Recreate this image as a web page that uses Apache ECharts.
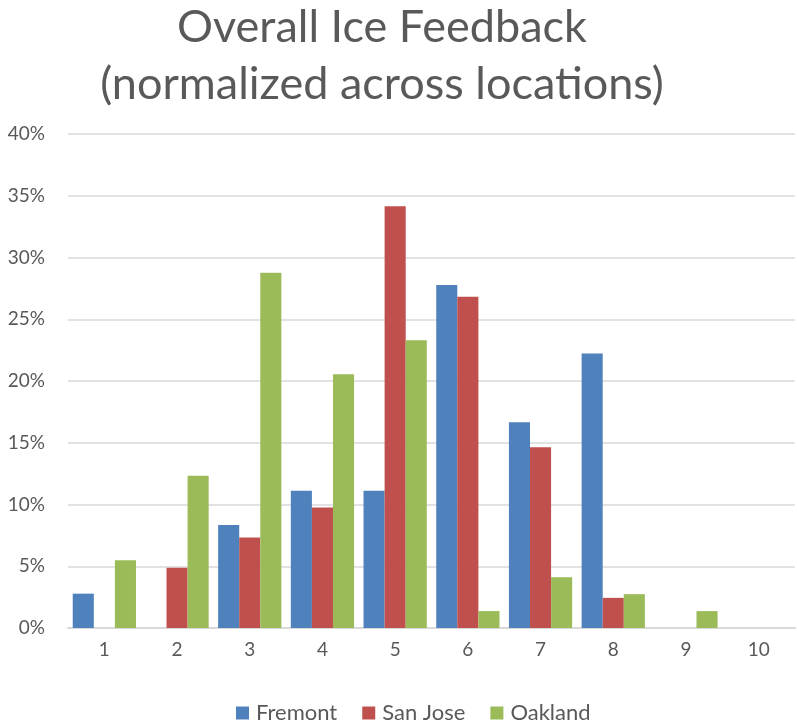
<!DOCTYPE html>
<html>
<head>
<meta charset="utf-8">
<script src="https://cdn.jsdelivr.net/npm/echarts@6/dist/echarts.min.js"></script>
<style>
    html, body { margin: 0; padding: 0; background: #fff; }
    #chart { width: 797px; height: 728px; }
</style>
</head>
<body>
<div id="chart"></div>
<script>
// ratings 1-10, share of answers per location (%)
const categories = ['1', '2', '3', '4', '5', '6', '7', '8', '9', '10']
const fremont = [2.78, 0, 8.33, 11.11, 11.11, 27.78, 16.67, 22.22, 0, 0]
const sanJose = [0, 4.88, 7.32, 9.76, 34.15, 26.83, 14.63, 2.44, 0, 0]
const oakland = [5.48, 12.33, 28.77, 20.55, 23.29, 1.37, 4.11, 2.74, 1.37, 0]

const textColor = '#595959'
const font = 'Lato'

const makeSeries = function(name, data, color) {
    return {
        name: name,
        type: 'bar',
        data: data,
        barGap: 0,
        barCategoryGap: '13%',
        itemStyle: { color: color },
    }
}

const chart = echarts.init(document.getElementById('chart'))

const option = {
    animation: false,
    title: {
        text: 'Overall Ice Feedback\n(normalized across locations)',
        left: 382,
        textAlign: 'center',
        top: -1,
        padding: 0,
        textStyle: {
            fontFamily: font,
            fontSize: 45,
            fontWeight: 'normal',
            lineHeight: 57,
            color: textColor,
        },
    },
    legend: {
        top: 697,
        left: 231,
        icon: 'rect',
        itemWidth: 13,
        itemHeight: 13,
        itemGap: 25,
        textStyle: { fontFamily: font, fontSize: 22, color: textColor, padding: [0, 0, 0, 2] },
        data: ['Fremont', 'San Jose', 'Oakland'],
    },
    grid: { left: 68, right: 2, top: 134, bottom: 100 },
    xAxis: {
        type: 'category',
        data: categories,
        axisTick: { show: false },
        axisLine: { lineStyle: { color: '#D9D9D9', width: 2 } },
        axisLabel: { fontFamily: font, fontSize: 19, color: textColor, margin: 12 },
    },
    yAxis: {
        type: 'value',
        min: 0,
        max: 40,
        interval: 5,
        axisLine: { show: false },
        axisTick: { show: false },
        splitLine: { lineStyle: { color: '#D9D9D9', width: 1.5 } },
        axisLabel: { fontFamily: font, fontSize: 19, color: textColor, margin: 23, formatter: '{value}%' },
    },
    series: [
        makeSeries('Fremont', fremont, '#4F81BD'),
        makeSeries('San Jose', sanJose, '#C0504D'),
        makeSeries('Oakland', oakland, '#9BBB59'),
    ],
}

chart.setOption(option)
</script>
</body>
</html>
